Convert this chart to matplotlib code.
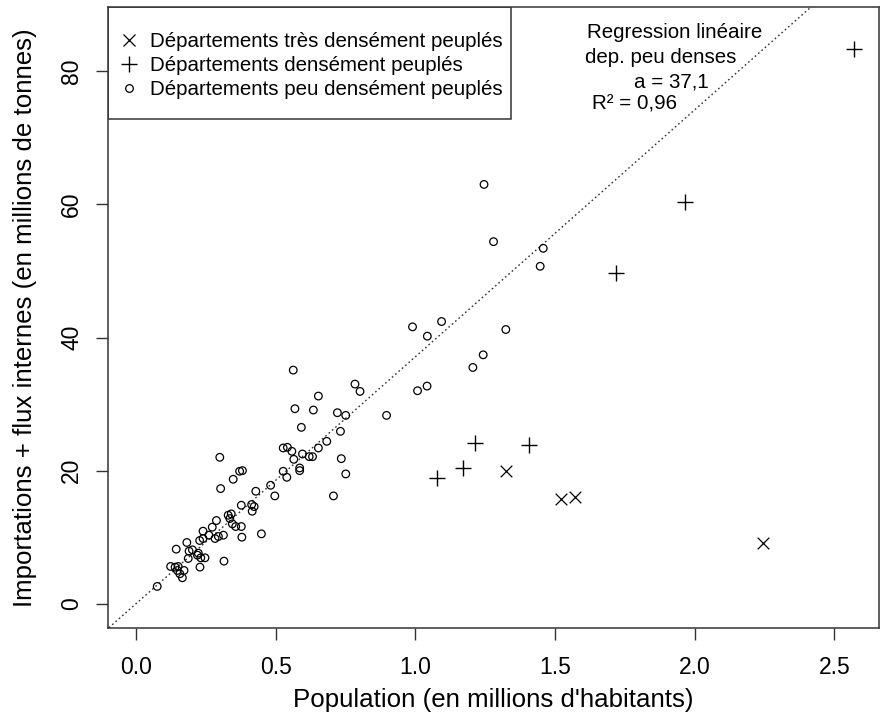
import matplotlib
matplotlib.use("Agg")
import matplotlib.pyplot as plt
from matplotlib.patches import Rectangle
from matplotlib.lines import Line2D

plt.rcParams['font.family'] = ['Liberation Sans', 'DejaVu Sans']

# Very densely populated departments (x)
tres_x = [1.326, 1.523, 1.571, 2.243]
tres_y = [20.0, 15.7, 16.0, 9.1]

# Densely populated departments (+)
dense_x = [1.214, 1.408, 1.172, 1.077, 1.719, 1.966, 2.572]
dense_y = [24.2, 23.8, 20.4, 18.9, 49.7, 60.4, 83.3]

# Sparsely populated departments (o)
peu_x = [1.246, 1.280, 1.458, 1.447, 0.990, 1.094, 1.043, 1.324, 1.243, 1.206,
         1.008, 1.042, 0.897, 0.563, 0.784, 0.802, 0.653, 0.569, 0.635, 0.721,
         0.751, 0.592, 0.732, 0.683, 0.653, 0.527, 0.542, 0.558, 0.596, 0.620,
         0.632, 0.565, 0.735, 0.586, 0.586, 0.751, 0.527, 0.540, 0.707,
         0.300, 0.381, 0.371, 0.348, 0.303, 0.429, 0.482, 0.497, 0.377, 0.414,
         0.423, 0.416, 0.341, 0.330, 0.336, 0.377, 0.357, 0.345, 0.288, 0.273,
         0.240, 0.261, 0.379, 0.449, 0.313, 0.283, 0.295, 0.228, 0.240, 0.182,
         0.144, 0.190, 0.202, 0.223, 0.220, 0.232, 0.247, 0.187, 0.229, 0.315,
         0.124, 0.140, 0.151, 0.148, 0.157, 0.172, 0.166, 0.076]
peu_y = [63.0, 54.4, 53.4, 50.7, 41.6, 42.4, 40.2, 41.2, 37.4, 35.5,
         32.0, 32.7, 28.3, 35.1, 33.0, 31.9, 31.2, 29.3, 29.1, 28.7,
         28.3, 26.5, 25.9, 24.4, 23.4, 23.4, 23.5, 22.9, 22.5, 22.1,
         22.1, 21.7, 21.8, 20.4, 20.0, 19.5, 19.9, 19.0, 16.2,
         22.0, 20.0, 19.9, 18.7, 17.3, 16.9, 17.8, 16.2, 14.8, 14.9,
         14.6, 13.9, 13.5, 13.3, 12.8, 11.6, 11.6, 12.0, 12.5, 11.5,
         10.9, 10.3, 10.0, 10.5, 10.3, 9.8, 10.1, 9.5, 9.8, 9.2,
         8.2, 7.9, 8.1, 7.6, 7.3, 6.9, 6.9, 6.8, 5.5, 6.4,
         5.6, 5.5, 5.6, 5.0, 4.5, 5.0, 3.9, 2.6]

slope = 37.1
r2_text = "0,96"

x_ticks = [0.0, 0.5, 1.0, 1.5, 2.0, 2.5]
x_ticklabels = ["0.0", "0.5", "1.0", "1.5", "2.0", "2.5"]
y_ticks = [0, 20, 40, 60, 80]
y_ticklabels = ["0", "20", "40", "60", "80"]

legend_labels = ["Départements très densément peuplés",
                 "Départements densément peuplés",
                 "Départements peu densément peuplés"]

W, H = 880, 715
fig = plt.figure(figsize=(W / 100, H / 100), dpi=100)
ax_l, ax_r, ax_t, ax_b = 107.5, 879.0, 6.7, 627.7
ax = fig.add_axes([ax_l / W, 1 - ax_b / H, (ax_r - ax_l) / W, (ax_b - ax_t) / H])

fs_small = 14.8
fs_tick = 16.5
fs_title = 18.6

ax.scatter(peu_x, peu_y, s=30, facecolors='none', edgecolors='black',
           linewidths=0.9, marker='o', zorder=3)
ax.scatter(dense_x, dense_y, s=120, c='black', marker='+', linewidths=1.0, zorder=3)
ax.scatter(tres_x, tres_y, s=70, c='black', marker='x', linewidths=0.9, zorder=3)

ax.axline((0, 0), slope=slope, color='#333333', linestyle=(0, (1.2, 2.0)),
          linewidth=1.0, zorder=2)

ax.set_xlim(-0.102, 2.660)
ax.set_ylim(-3.6, 89.7)
ax.set_xticks(x_ticks)
ax.set_xticklabels(x_ticklabels)
ax.set_yticks(y_ticks)
ax.set_yticklabels(y_ticklabels)
ax.tick_params(direction='out', length=8.6, width=1.0, color='#333333',
               labelsize=fs_tick)
ax.tick_params(axis='x', pad=11.5)
ax.tick_params(axis='y', pad=9.0)
for lab in ax.get_yticklabels():
    lab.set_rotation(90)
    lab.set_va('center')
for sp in ax.spines.values():
    sp.set_color('#333333')
    sp.set_linewidth(1.1)

ax.set_xlabel("Population (en millions d'habitants)", fontsize=fs_title, va='center')
ax.xaxis.set_label_coords(0.5, (ax_b - 700) / (ax_b - ax_t))
ax.set_ylabel("Importations + flux internes (en millions de tonnes)",
              fontsize=fs_title, va='center')
ax.yaxis.set_label_coords((25 - ax_l) / (ax_r - ax_l), 0.5)

# Legend
handles = [Line2D([], [], linestyle='none', marker='x', color='black',
                  markersize=8.0, markeredgewidth=0.9),
           Line2D([], [], linestyle='none', marker='+', color='black',
                  markersize=11.0, markeredgewidth=1.0),
           Line2D([], [], linestyle='none', marker='o', markerfacecolor='none',
                  markeredgecolor='black', markersize=5.5, markeredgewidth=0.9)]
leg = ax.legend(handles, legend_labels, loc='upper left', frameon=False,
                fontsize=fs_small, handlelength=0.98, handletextpad=0.53,
                labelspacing=0.24, borderpad=0.0, borderaxespad=0.0,
                bbox_to_anchor=((119.0 - ax_l) / (ax_r - ax_l),
                                (ax_b - 32.0) / (ax_b - ax_t)))
box = Rectangle((0, (ax_b - 119.3) / (ax_b - ax_t)),
                (511.0 - ax_l) / (ax_r - ax_l), (119.3 - ax_t) / (ax_b - ax_t),
                transform=ax.transAxes, fill=False, edgecolor='#333333',
                linewidth=1.1, zorder=4)
ax.add_patch(box)

# Regression annotation
def px(x, y):
    return x / W, 1 - y / H

fig.text(*px(586.7, 38.3), "Regression linéaire", fontsize=fs_small,
         ha='left', va='baseline')
fig.text(*px(585.0, 63.3), "dep. peu denses", fontsize=fs_small,
         ha='left', va='baseline')
fig.text(*px(671.0, 87.3), "a = " + f"{slope:.1f}".replace('.', ','),
         fontsize=fs_small, ha='center', va='baseline')
fig.text(*px(634.0, 109.0), "R² = " + r2_text, fontsize=fs_small,
         ha='center', va='baseline')

fig.savefig("out.png", dpi=100)
